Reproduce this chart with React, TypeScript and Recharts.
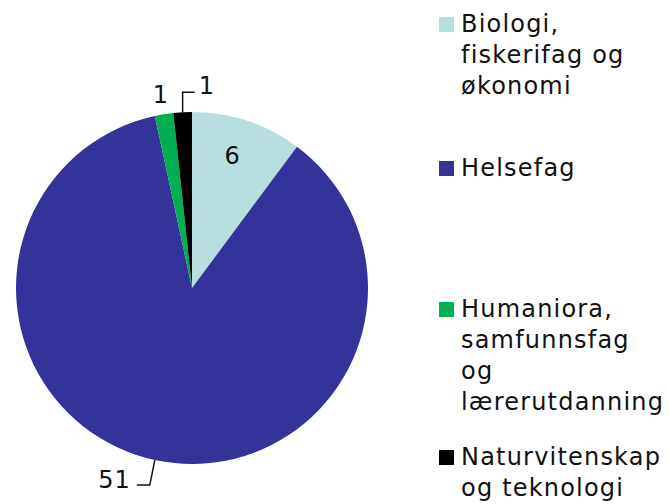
import { PieChart, Pie, Cell, Legend } from "recharts"

document.body.style.margin = "0"

const categories = [
  "Biologi, fiskerifag og økonomi",
  "Helsefag",
  "Humaniora, samfunnsfag og lærerutdanning",
  "Naturvitenskap og teknologi",
]
const counts = [6, 51, 1, 1]
const colors = ["#b7dfe0", "#333399", "#00b050", "#000000"]

const data = categories.map((name, i) => ({ name, value: counts[i] }))

const RADIAN = Math.PI / 180
const FONT = "'DejaVu Sans', Verdana, sans-serif"
const TEXT = "#111111"

// legend rows: top of each block in px
const legendTops = [9, 153, 294, 442]

function renderLabel(props: any) {
  const { cx, cy, midAngle, outerRadius, value, index } = props
  const cos = Math.cos(-midAngle * RADIAN)
  const sin = Math.sin(-midAngle * RADIAN)
  const ex = cx + outerRadius * cos
  const ey = cy + outerRadius * sin
  const common = { fontFamily: FONT, fontSize: 24, fill: TEXT, letterSpacing: 1 }

  if (index === 0) {
    const r = outerRadius * 0.79
    return (
      <text key={index} x={cx + r * cos - 3} y={cy + r * sin} textAnchor="middle" dominantBaseline="central" {...common}>
        {value}
      </text>
    )
  }
  if (index === 1) {
    return (
      <g key={index}>
        <polyline points={`${ex},${ey} ${ex - 5},${ey + 25} ${ex - 18},${ey + 25}`} fill="none" stroke={TEXT} strokeWidth={1.5} />
        <text x={ex - 24} y={ey + 20} textAnchor="end" dominantBaseline="central" {...common}>
          {value}
        </text>
      </g>
    )
  }
  if (index === 2) {
    const r = outerRadius + 19
    return (
      <text key={index} x={cx + r * cos} y={cy + r * sin} textAnchor="middle" dominantBaseline="central" {...common}>
        {value}
      </text>
    )
  }
  return (
    <g key={index}>
      <polyline points={`${ex},${ey} ${ex},${ey - 20} ${ex + 12},${ey - 20}`} fill="none" stroke={TEXT} strokeWidth={1.5} />
      <text x={ex + 16} y={ey - 26} textAnchor="start" dominantBaseline="central" {...common}>
        {value}
      </text>
    </g>
  )
}

function LegendContent(props: any) {
  const { payload } = props
  return (
    <div style={{ position: "relative", width: 669, height: 504 }}>
      {(payload || []).map((entry: any, i: number) => (
        <div
          key={i}
          style={{
            position: "absolute",
            left: 439,
            top: legendTops[i],
            width: 230,
            fontFamily: FONT,
            fontSize: 24,
            lineHeight: "31px",
            letterSpacing: "1.2px",
            color: TEXT,
          }}
        >
          <span
            style={{
              position: "absolute",
              left: 0,
              top: 8,
              width: 15,
              height: 15,
              background: entry.color,
            }}
          />
          <div style={{ marginLeft: 22, width: 185 }}>{entry.value}</div>
        </div>
      ))}
    </div>
  )
}

export default function App() {
  return (
    <div style={{ width: 669, height: 504, background: "#fff" }}>
      <PieChart width={669} height={504} margin={{ top: 0, right: 0, bottom: 0, left: 0 }}>
        <Pie
          data={data}
          dataKey="value"
          nameKey="name"
          cx={192}
          cy={288}
          outerRadius={176}
          startAngle={90}
          endAngle={-270}
          stroke="none"
          label={renderLabel}
          labelLine={false}
          isAnimationActive={false}
        >
          {data.map((_, i) => (
            <Cell key={i} fill={colors[i]} />
          ))}
        </Pie>
        <Legend
          content={<LegendContent />}
          wrapperStyle={{ position: "absolute", left: 0, top: 0, width: 669, height: 504 }}
        />
      </PieChart>
    </div>
  )
}
